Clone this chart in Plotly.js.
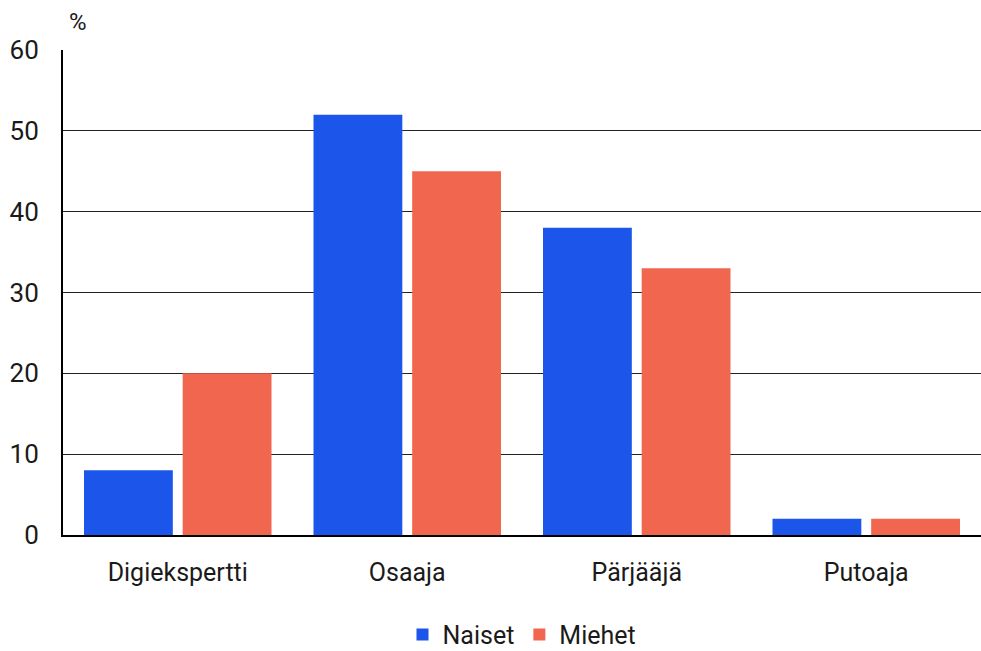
<!DOCTYPE html>
<html><head><meta charset="utf-8">
<script src="https://cdn.plot.ly/plotly-3.0.1.min.js"></script>
<style>html,body{margin:0;padding:0;background:#fff}</style>
</head><body>
<div id="chart" style="width:981px;height:651px"></div>
<script>
const categories = ["Digiekspertti", "Osaaja", "Pärjääjä", "Putoaja"];
const naiset = [8, 52, 38, 2];
const miehet = [20, 45, 33, 2];
const seriesNames = ["Naiset", "Miehet"];
const yTicks = [0, 10, 20, 30, 40, 50, 60];

const font = "Roboto, 'Noto Sans', sans-serif";
const data = [
  {type: "bar", name: seriesNames[0], x: categories, y: naiset, marker: {color: "#1b55ea"}},
  {type: "bar", name: seriesNames[1], x: categories, y: miehet, marker: {color: "#f1664e"}}
];
const layout = {
  width: 981, height: 651,
  margin: {l: 63, r: 0, t: 50, b: 116},
  paper_bgcolor: "#fff", plot_bgcolor: "#fff",
  font: {family: font, size: 25, color: "#1a1a1a"},
  barmode: "group", bargap: 0.14, bargroupgap: 0.1,
  xaxis: {automargin: false, showline: true, linecolor: "#000", linewidth: 2, ticks: "", ticklabelstandoff: 14, showgrid: false, tickfont: {size: 25}},
  yaxis: {automargin: false, range: [0, 60], tickvals: yTicks, showline: true, linecolor: "#000", linewidth: 2,
          gridcolor: "#222", gridwidth: 1, zeroline: false, ticks: "", ticklabelstandoff: 17, tickfont: {size: 26}},
  showlegend: true,
  legend: {orientation: "h", x: 0.5, xanchor: "center", xref: "paper", yref: "container", y: 0.025, yanchor: "middle", font: {size: 25}, itemwidth: 30, traceorder: "normal"},
  annotations: [{text: "%", xref: "paper", yref: "paper", x: 0.0, y: 1, xshift: 4, yshift: 28, xanchor: "left", yanchor: "middle", showarrow: false, font: {size: 24}}]
};
Plotly.newPlot("chart", data, layout, {displayModeBar: false, staticPlot: true});
</script>
</body></html>
